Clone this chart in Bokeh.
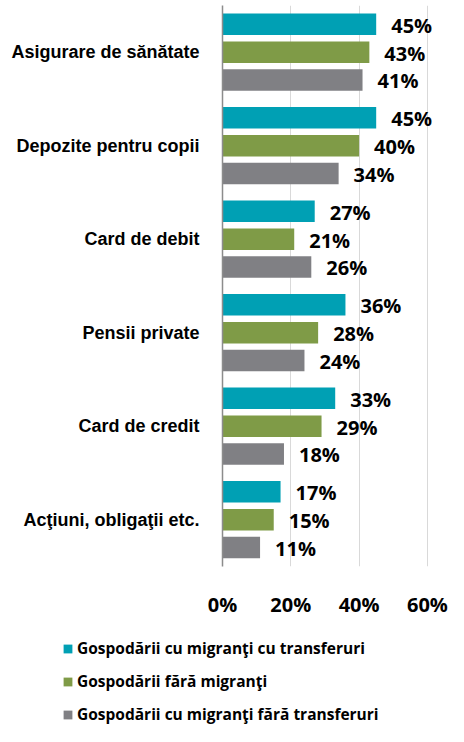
from bokeh.plotting import figure
from bokeh.layouts import column
from bokeh.models import (ColumnDataSource, FactorRange, FixedTicker, PrintfTickFormatter,
                          Legend, LegendItem, Range1d)
from bokeh.transform import dodge
from bokeh.embed import file_html
from bokeh.resources import INLINE
from bokeh.core.properties import value

categories = ["Asigurare de sănătate", "Depozite pentru copii", "Card de debit",
              "Pensii private", "Card de credit", "Acţiuni, obligaţii etc."]
with_remit = [45, 45, 27, 36, 33, 17]
no_migrants = [43, 40, 21, 28, 29, 15]
no_remit = [41, 34, 26, 24, 18, 11]
series_names = ["Gospodării cu migranţi cu transferuri",
                "Gospodării fără migranţi",
                "Gospodării cu migranţi fără transferuri"]
x_ticks = [0, 20, 40, 60]

colors = ["#00A0B4", "#7F9B47", "#808084"]
offsets = [0.30, 0.0, -0.296]
bar_h = 0.23

src = ColumnDataSource(dict(
    cat=categories,
    s0=with_remit, s1=no_migrants, s2=no_remit,
    l0=[f"{v}%" for v in with_remit],
    l1=[f"{v}%" for v in no_migrants],
    l2=[f"{v}%" for v in no_remit],
))

p = figure(width=448, height=621,
           y_range=FactorRange(*reversed(categories), range_padding=0),
           x_range=Range1d(0, 65),
           output_backend="svg", toolbar_location=None,
           min_border_left=222, min_border_right=4,
           min_border_top=5, min_border_bottom=55)
p.frame_align = False
p.outline_line_color = None
p.background_fill_color = None
p.border_fill_color = None

p.ygrid.grid_line_color = None
p.xgrid.grid_line_color = "#D9D9D9"
p.xgrid.grid_line_width = 1

p.xaxis.ticker = FixedTicker(ticks=x_ticks)
p.xaxis.formatter = PrintfTickFormatter(format="%d%%")
p.xaxis.axis_line_color = None
p.xaxis.major_tick_line_color = None
p.xaxis.major_tick_out = 0
p.xaxis.major_tick_in = 0
p.xaxis.minor_tick_line_color = None
p.xaxis.major_label_standoff = 24
p.xaxis.major_label_text_font = "Open Sans"
p.xaxis.major_label_text_font_style = "bold"
p.xaxis.major_label_text_font_size = "20px"
p.xaxis.major_label_text_color = "#000000"

p.yaxis.axis_line_color = "#8C8C8C"
p.yaxis.axis_line_width = 1.5
p.yaxis.major_tick_line_color = None
p.yaxis.major_tick_out = 0
p.yaxis.major_tick_in = 0
p.yaxis.minor_tick_line_color = None
p.yaxis.major_label_standoff = 23
p.yaxis.major_label_text_font = "Liberation Sans"
p.yaxis.major_label_text_font_style = "bold"
p.yaxis.major_label_text_font_size = "18px"
p.yaxis.major_label_text_color = "#000000"

for i in range(3):
    ydod = dodge("cat", offsets[i], range=p.y_range)
    p.hbar(y=ydod, left=0, right=f"s{i}", height=bar_h, source=src,
           fill_color=colors[i], line_color=None)
    p.text(x=f"s{i}", y=ydod, text=f"l{i}", source=src, x_offset=15, y_offset=1,
           text_align="left", text_baseline="middle",
           text_font=value("Open Sans"), text_font_style="bold",
           text_font_size="20px", text_color="#000000")

# legend panel (separate figure under the chart)
p2 = figure(width=448, height=105, x_range=Range1d(0, 1), y_range=Range1d(0, 1),
            x_axis_type=None, y_axis_type=None, output_backend="svg",
            toolbar_location=None, min_border=0)
p2.frame_align = False
p2.outline_line_color = None
p2.grid.visible = False
p2.background_fill_color = None
p2.border_fill_color = None

# hidden swatch renderers of the same series, used only by the legend
swatches = [p2.hbar(y=f"s{i}", left=0, right=f"s{i}", height=bar_h, source=src,
                    fill_color=colors[i], line_color=None, visible=False)
            for i in range(3)]
legend = Legend(items=[LegendItem(label=series_names[i], renderers=[swatches[i]]) for i in range(3)],
                location=(62, 1), orientation="vertical",
                glyph_width=11, glyph_height=11, label_standoff=4, spacing=11,
                padding=0, margin=0, border_line_color=None, background_fill_alpha=0,
                inactive_fill_alpha=0,
                label_text_font="Open Sans", label_text_font_style="bold",
                label_text_font_size="15.5px", label_text_color="#000000")
p2.add_layout(legend, "center")

layout = column(p, p2, spacing=0)
open("out.html", "w").write(file_html(layout, INLINE))
